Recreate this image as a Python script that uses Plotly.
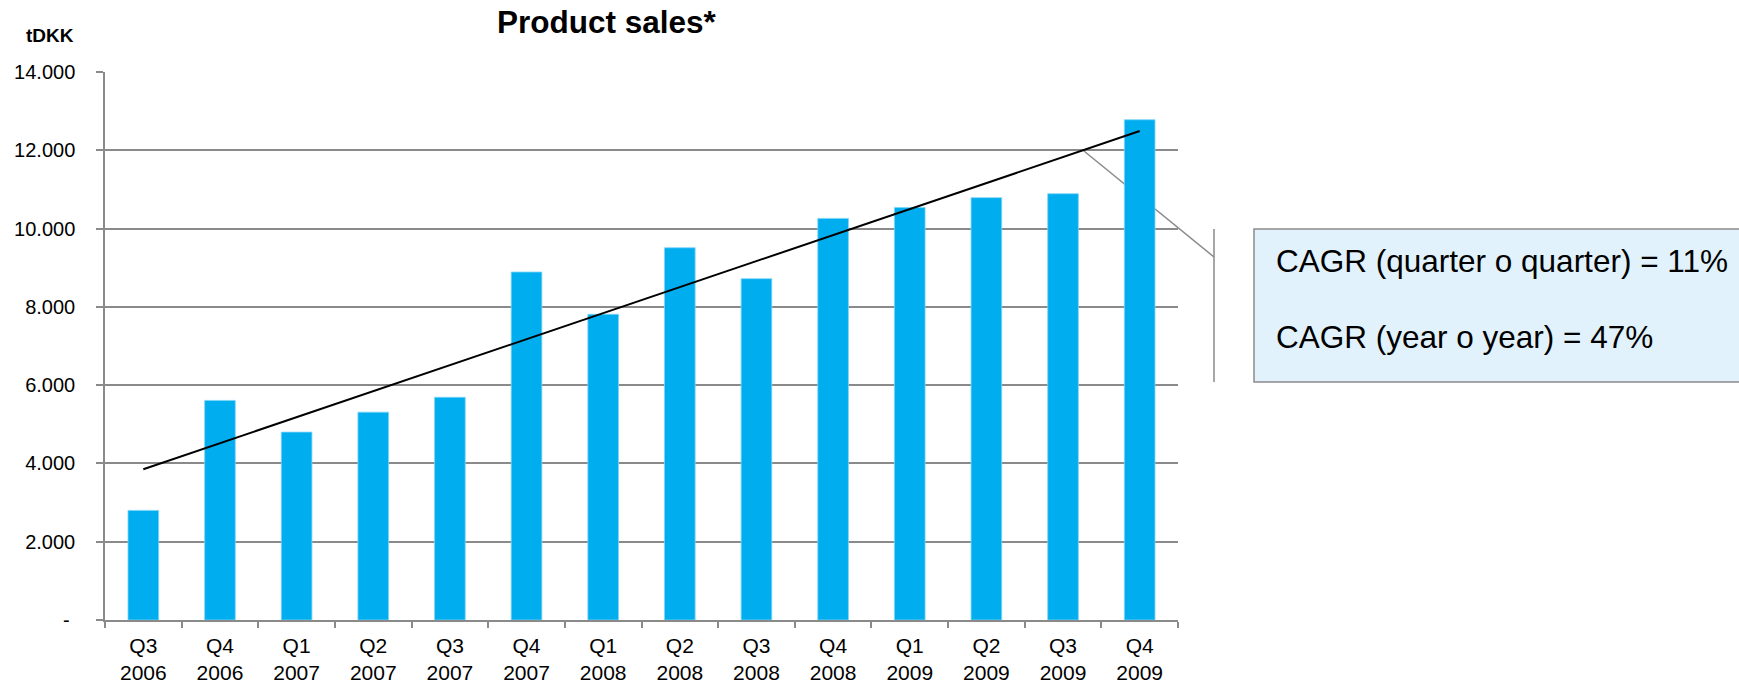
import numpy as np
import plotly.graph_objects as go

# ---- data -------------------------------------------------------------
quarters = ["Q3", "Q4", "Q1", "Q2", "Q3", "Q4", "Q1", "Q2", "Q3", "Q4", "Q1", "Q2", "Q3", "Q4"]
years = ["2006", "2006", "2007", "2007", "2007", "2007", "2008", "2008",
         "2008", "2008", "2009", "2009", "2009", "2009"]
sales_tdkk = [2800, 5610, 4800, 5310, 5690, 8890, 7810, 9510,
              8720, 10260, 10540, 10790, 10890, 12780]

y_tick_values = [0, 2000, 4000, 6000, 8000, 10000, 12000, 14000]
y_tick_labels = ["-\u00a0", "2.000", "4.000", "6.000", "8.000", "10.000", "12.000", "14.000"]

title_text = "<b>Product sales*</b>"
unit_text = "<b>tDKK</b>"
cagr_lines = ["CAGR (quarter o quarter) = 11%", "CAGR (year o year) = 47%"]
callout_level = 12000

# ---- geometry ---------------------------------------------------------
W, H = 1739, 690
PL, PR, PT, PB = 105, 1178, 72, 620   # plot area edges in px
Y_MAX = 14000

def px_x(px):
    return (px - PL) / (PR - PL)

def px_y(py):
    return (PB - py) / (PB - PT)

FONT = "Liberation Sans, Arial, sans-serif"
GRID = "#8a8a8a"
BAR = "#00AEEF"

categories = [f"{q}<br>{y}" for q, y in zip(quarters, years)]
n = len(categories)

# linear trend through the quarterly sales
idx = np.arange(n)
slope, intercept = np.polyfit(idx, sales_tdkk, 1)
trend = intercept + slope * idx

fig = go.Figure()
fig.add_trace(go.Bar(
    x=categories, y=sales_tdkk,
    marker=dict(color=BAR, line=dict(color="#7fd4f5", width=0.8)),
    width=0.4, hoverinfo="skip",
))
fig.add_trace(go.Scatter(
    x=categories, y=trend, mode="lines",
    line=dict(color="black", width=2), hoverinfo="skip",
))

# callout: from where the trend crosses 12.000 out to the bracket
cross_idx = (callout_level - intercept) / slope
cx0 = (cross_idx + 0.5) / n
cy0 = callout_level / Y_MAX
bracket_x = px_x(1214)
box_top, box_bot = px_y(229), px_y(382)

fig.add_shape(type="line", xref="paper", yref="paper",
              x0=cx0, y0=cy0, x1=bracket_x, y1=px_y(257),
              line=dict(color=GRID, width=1.5), layer="below")
fig.add_shape(type="line", xref="paper", yref="paper",
              x0=bracket_x, y0=box_top, x1=bracket_x, y1=box_bot,
              line=dict(color=GRID, width=1.5))
fig.add_shape(type="rect", xref="paper", yref="paper",
              x0=px_x(1254), x1=px_x(1760), y0=box_bot, y1=box_top,
              fillcolor="#E1F2FC", line=dict(color=GRID, width=1.5))

for line_text, py in zip(cagr_lines, [261, 337]):
    fig.add_annotation(xref="paper", yref="paper", x=px_x(1274), y=px_y(py),
                       xanchor="left", yanchor="middle", showarrow=False,
                       text=line_text, font=dict(family=FONT, size=31.5, color="black"))

fig.add_annotation(xref="paper", yref="paper", x=px_x(607), y=px_y(22),
                   xanchor="center", yanchor="middle", showarrow=False,
                   text=title_text, font=dict(family=FONT, size=31.5, color="black"))
fig.add_annotation(xref="paper", yref="paper", x=px_x(50), y=px_y(36),
                   xanchor="center", yanchor="middle", showarrow=False,
                   text=unit_text, font=dict(family=FONT, size=19, color="black"))

fig.update_layout(
    width=W, height=H,
    margin=dict(l=PL, r=W - PR, t=PT, b=H - PB, pad=0, autoexpand=False),
    paper_bgcolor="white", plot_bgcolor="white",
    showlegend=False, bargap=0.6,
    font=dict(family=FONT, size=20, color="black"),
)
fig.update_xaxes(
    type="category", showgrid=False, showline=True, linecolor=GRID, linewidth=1.5,
    ticks="outside", tickson="boundaries", ticklen=6, tickcolor=GRID, tickwidth=1.5,
    tickfont=dict(family=FONT, size=21, color="black"), ticklabelstandoff=6,
    automargin=False,
)
fig.update_yaxes(
    range=[0, Y_MAX], tickvals=y_tick_values, ticktext=y_tick_labels,
    showgrid=True, gridcolor=GRID, gridwidth=1.5,
    showline=True, linecolor=GRID, linewidth=1.5, zeroline=False,
    ticks="outside", ticklen=7, tickcolor=GRID, tickwidth=1.5,
    tickfont=dict(family=FONT, size=20, color="black"), ticklabelstandoff=17,
    automargin=False,
)

fig.write_html("out.html")
